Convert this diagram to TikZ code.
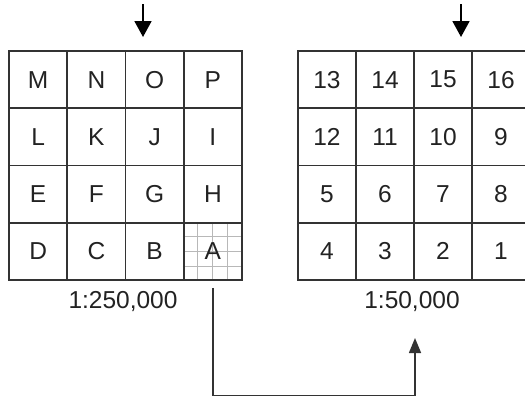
\documentclass[tikz,border=0pt]{standalone}
\usepackage{fontspec}
\setmainfont{Liberation Sans}
\usetikzlibrary{arrows.meta,calc,backgrounds}
\definecolor{gridc}{HTML}{333333}
\definecolor{subc}{HTML}{B8B8B8}
\definecolor{txtc}{HTML}{222222}
\begin{document}
\begin{tikzpicture}[x=1pt,y=-1pt,
  cell/.style={draw=gridc, line width=1.7pt, minimum width=58.25pt, minimum height=57.25pt, inner sep=0pt, font=\fontsize{24.5}{24.5}\selectfont, text=txtc},
  rcell/.style={cell, minimum width=58pt},
  lbl/.style={inner sep=0pt, font=\fontsize{24.5}{24.5}\selectfont, text=txtc},
  toparrow/.style={line width=1.8pt, black, -{Triangle[width=17pt,length=16pt]}},
  conn/.style={line width=1.5pt, draw=gridc, -{Triangle[width=12pt,length=15pt]}},
  subline/.style={line width=0.8pt, draw=subc}]
\useasboundingbox (0,0) rectangle (525,397);
% left grid
\foreach \t [count=\i from 0] in {M,N,O,P,L,K,J,I,E,F,G,H,D,C,B,A}{
  \pgfmathtruncatemacro{\r}{int(\i/4)}
  \pgfmathtruncatemacro{\c}{mod(\i,4)}
  \node[cell] (c\t) at ({9+58.25*(\c+0.5)},{51+57.25*(\r+0.5)}) {\t};
}
% right grid
\foreach \t [count=\i from 0] in {13,14,15,16,12,11,10,9,5,6,7,8,4,3,2,1}{
  \pgfmathtruncatemacro{\r}{int(\i/4)}
  \pgfmathtruncatemacro{\c}{mod(\i,4)}
  \node[rcell] (n\t) at ({298+58*(\c+0.5)},{51+57.25*(\r+0.5)}) {\t};
}
% subgrid in A
\begin{scope}[on background layer]
\foreach \f in {0.25,0.5,0.75}{
  \draw[subline] ($(cA.north west)!\f!(cA.north east)$) -- ($(cA.south west)!\f!(cA.south east)$);
  \draw[subline] ($(cA.north west)!\f!(cA.south west)$) -- ($(cA.north east)!\f!(cA.south east)$);
}
\end{scope}
% scale labels
\node[lbl] (s1) at (123,302) {1:250,000};
\node[lbl] (s2) at (412,302) {1:50,000};
% top arrows
\coordinate (t1a) at (143,4);
\coordinate (t1b) at (143,37);
\coordinate (t2a) at (461,4);
\coordinate (t2b) at (461,37);
\draw[toparrow] (t1a) -- (t1b);
\draw[toparrow] (t2a) -- (t2b);
% connector
\coordinate (k0) at ($(cA.south)+(0,7)$);
\coordinate (k3) at (415,338);
\coordinate (k1) at ($(k0|-0,395.3)$);
\coordinate (k2) at ($(k3|-0,395.3)$);
\draw[conn] (k0) -- (k1) -- (k2) -- (k3);
\end{tikzpicture}
\end{document}
